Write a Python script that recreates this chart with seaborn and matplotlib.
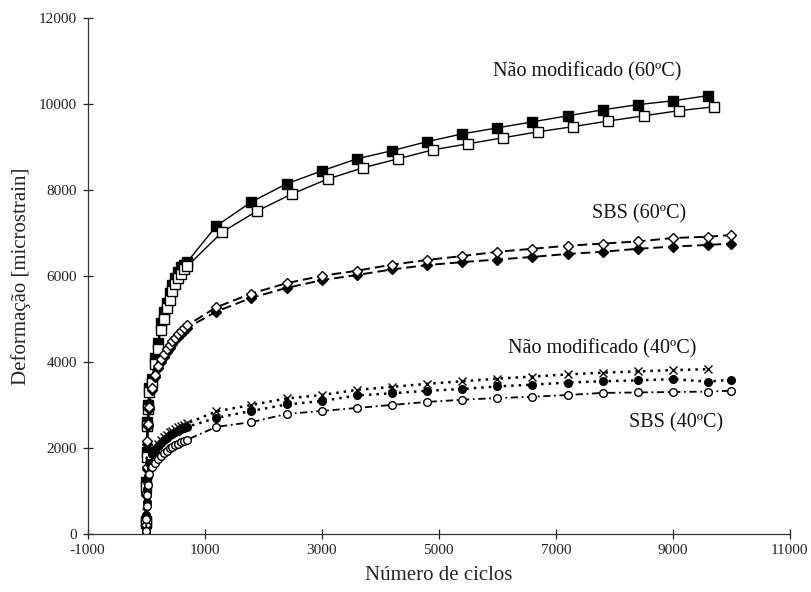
import numpy as np
import pandas as pd
import matplotlib
matplotlib.use("Agg")
import matplotlib.pyplot as plt
import seaborn as sns

# ---------------- data ----------------
cycles_early = [1, 5, 10, 20, 30, 50, 100, 150, 200, 250, 300, 350, 400, 450, 500, 550, 600, 650, 700]
cycles_late_96 = [1200, 1800, 2400, 3000, 3600, 4200, 4800, 5400, 6000, 6600, 7200, 7800, 8400, 9000, 9600]
cycles_late_100 = [1200, 1800, 2400, 3000, 3600, 4200, 4800, 5400, 6000, 6600, 7200, 7800, 8400, 9000, 9600, 10000]
cycles_late_open_sq = [1300, 1900, 2500, 3100, 3700, 4300, 4900, 5500, 6100, 6700, 7300, 7900, 8500, 9100, 9700]

# Não modificado 60ºC (filled squares)
nm60_a_early = [300, 1200, 1900, 2600, 3000, 3400, 3600, 4100, 4450, 4900, 5150, 5370, 5600, 5790, 5950, 6090, 6200, 6260, 6320]
nm60_a_late = [7160, 7720, 8140, 8440, 8720, 8910, 9120, 9300, 9440, 9580, 9720, 9860, 9980, 10070, 10190]
# Não modificado 60ºC (open squares)
nm60_b_early = [250, 1100, 1800, 2500, 2900, 3300, 3500, 3950, 4300, 4750, 5000, 5250, 5450, 5650, 5800, 5950, 6050, 6150, 6220]
nm60_b_late = [7020, 7510, 7910, 8250, 8510, 8720, 8930, 9070, 9210, 9350, 9470, 9600, 9720, 9840, 9930]
# SBS 60ºC (filled diamonds)
sbs60_a_early = [200, 900, 1500, 2100, 2500, 2900, 3350, 3650, 3850, 4000, 4120, 4230, 4330, 4420, 4500, 4580, 4650, 4720, 4790]
sbs60_a_late = [5170, 5490, 5720, 5900, 6020, 6150, 6250, 6320, 6380, 6440, 6510, 6560, 6630, 6680, 6720, 6750]
# SBS 60ºC (open diamonds)
sbs60_b_early = [220, 950, 1550, 2150, 2550, 2950, 3400, 3700, 3900, 4060, 4180, 4290, 4390, 4480, 4560, 4640, 4710, 4780, 4850]
sbs60_b_late = [5270, 5590, 5830, 6000, 6120, 6260, 6370, 6460, 6560, 6630, 6700, 6750, 6800, 6880, 6910, 6950]
# Não modificado 40ºC (x markers)
nm40_a_early = [100, 500, 800, 1100, 1400, 1700, 1900, 2010, 2100, 2180, 2250, 2310, 2360, 2400, 2440, 2480, 2510, 2540, 2570]
nm40_a_late = [2850, 3000, 3150, 3230, 3350, 3420, 3490, 3550, 3610, 3660, 3710, 3750, 3780, 3810, 3830]
# Não modificado 40ºC (filled circles)
nm40_b_early = [80, 450, 750, 1050, 1350, 1650, 1850, 1960, 2050, 2120, 2190, 2240, 2290, 2330, 2370, 2400, 2430, 2460, 2490]
nm40_b_late = [2700, 2860, 3010, 3090, 3220, 3270, 3330, 3370, 3430, 3470, 3520, 3550, 3570, 3600, 3540, 3590]
# SBS 40ºC (open circles)
sbs40_early = [60, 350, 650, 900, 1150, 1400, 1550, 1650, 1750, 1820, 1880, 1940, 1990, 2030, 2070, 2100, 2130, 2160, 2190]
sbs40_late = [2490, 2600, 2790, 2860, 2930, 3000, 3070, 3120, 3160, 3190, 3230, 3280, 3290, 3300, 3310, 3330]

labels = ["Não modificado (60ºC)", "SBS (60ºC)", "Não modificado (40ºC)", "SBS (40ºC)"]
label_pos_x = [7530, 8420, 7790, 9050]
label_pos_y = [10750, 7440, 4300, 2580]

x_ticks = [-1000, 1000, 3000, 5000, 7000, 9000, 11000]
y_ticks = [0, 2000, 4000, 6000, 8000, 10000, 12000]

# ---------------- style ----------------
sns.set_style("white")
plt.rcParams["font.family"] = ["Liberation Serif", "DejaVu Serif"]

fig = plt.figure(figsize=(8.11, 5.92), dpi=100)
ax = fig.add_axes([0.108, 0.098, 0.866, 0.872])

series = [
    (cycles_early + cycles_late_96, nm60_a_early + nm60_a_late, "s", "black", "-", 1.0, 6.5),
    (cycles_early + cycles_late_open_sq, nm60_b_early + nm60_b_late, "s", "white", "-", 1.0, 6.5),
    (cycles_early + cycles_late_100, sbs60_a_early + sbs60_a_late, "D", "black", (0, (5, 2.5)), 1.4, 5.0),
    (cycles_early + cycles_late_100, sbs60_b_early + sbs60_b_late, "D", "white", (0, (5, 2.5)), 1.4, 5.0),
    (cycles_early + cycles_late_96, nm40_a_early + nm40_a_late, "x", "black", (0, (1, 2)), 1.8, 6.0),
    (cycles_early + cycles_late_100, nm40_b_early + nm40_b_late, "o", "black", (0, (1, 2)), 1.8, 5.5),
    (cycles_early + cycles_late_100, sbs40_early + sbs40_late, "o", "white", (0, (4, 2, 1, 2)), 1.3, 5.5),
]

for xs, ys, mk, fc, ls, lw, ms in series:
    df = pd.DataFrame({"ciclos": xs, "deformacao": ys})
    sns.lineplot(data=df, x="ciclos", y="deformacao", ax=ax, sort=False, estimator=None,
                 color="black", linestyle=ls, linewidth=lw, marker=mk, markersize=ms,
                 markerfacecolor=fc, markeredgecolor="black", markeredgewidth=1.0)

for t, lx, ly in zip(labels, label_pos_x, label_pos_y):
    ax.text(lx, ly, t, ha="center", va="center", fontsize=14.5, color="#111111")

ax.set_xlim(-1000, 11000)
ax.set_ylim(0, 12000)
ax.set_xticks(x_ticks)
ax.set_yticks(y_ticks)
ax.set_xticklabels([str(v) for v in x_ticks], fontsize=11)
ax.set_yticklabels([str(v) for v in y_ticks], fontsize=11)
ax.tick_params(axis="both", direction="inout", length=7, width=0.9, colors="#222222", pad=4)
ax.xaxis.set_ticks_position("bottom")
ax.yaxis.set_ticks_position("left")
for side in ["top", "right"]:
    ax.spines[side].set_visible(False)
for side in ["left", "bottom"]:
    ax.spines[side].set_color("#333333")
    ax.spines[side].set_linewidth(0.9)
ax.set_xlabel("Número de ciclos", fontsize=15, labelpad=6)
ax.set_ylabel("Deformação [microstrain]", fontsize=15, labelpad=6)
ax.grid(False)

fig.savefig("out.png", dpi=100)
